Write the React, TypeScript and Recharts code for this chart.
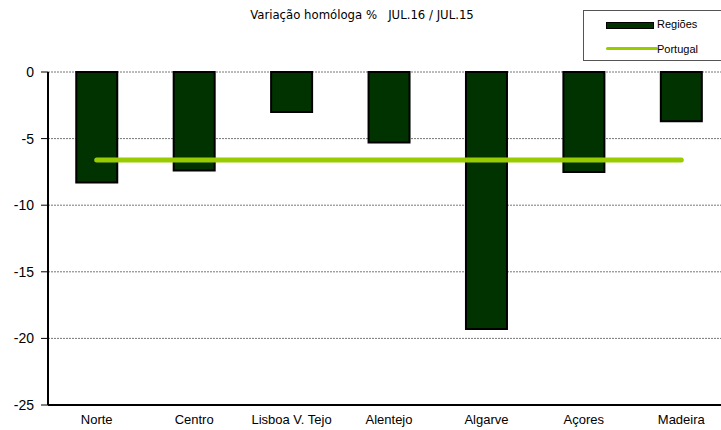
import React from "react";
import {
  ComposedChart,
  Bar,
  Line,
  XAxis,
  YAxis,
  CartesianGrid,
  ReferenceLine,
} from "recharts";

const categories = ["Norte", "Centro", "Lisboa V. Tejo", "Alentejo", "Algarve", "Açores", "Madeira"];
const regioes = [-8.3, -7.4, -3.0, -5.3, -19.3, -7.5, -3.7];
const portugal = [-6.6, -6.6, -6.6, -6.6, -6.6, -6.6, -6.6];
const yTicks = [0, -5, -10, -15, -20, -25];
const topTicks = [0, 1, 2, 3, 4, 5, 6, 7];

const title = "DESEMPREGO REGISTADO POR REGIÕES";
const subtitle = "Variação homóloga %   JUL.16 / JUL.15";

const data = categories.map((c, i) => ({ name: c, regioes: regioes[i], portugal: portugal[i] }));

export default function App() {
  return (
    <div style={{ position: "absolute", left: 0, top: 0, width: 721, height: 430, overflow: "hidden", background: "#fff" }}>
      <div
        style={{
          position: "absolute",
          left: 0,
          width: 721,
          top: -11,
          textAlign: "center",
          fontFamily: "Arial, 'Liberation Sans', sans-serif",
          fontWeight: "bold",
          fontSize: 12,
          lineHeight: "14px",
          paddingLeft: 0,
        }}
      >
        <span style={{ position: "relative", left: 0 }}>{title}</span>
      </div>
      <div
        style={{
          position: "absolute",
          left: 0,
          width: 724,
          top: 7,
          textAlign: "center",
          fontFamily: "'DejaVu Sans Condensed', 'DejaVu Sans', sans-serif",
          fontSize: 13,
          lineHeight: "16px",
          whiteSpace: "pre",
        }}
      >
        {subtitle}
      </div>
      <div
        style={{
          position: "absolute",
          left: 583,
          top: 10,
          width: 140,
          height: 51,
          border: "1px solid #555",
          boxSizing: "border-box",
          fontFamily: "Arial, 'Liberation Sans', sans-serif",
          fontSize: 11,
          zIndex: 2,
          background: "#fff",
        }}
      >
        <div style={{ position: "absolute", left: 22, top: 11, width: 46, height: 5, background: "#003300", border: "1px solid #000" }} />
        <div style={{ position: "absolute", left: 73, top: 6, lineHeight: "14px" }}>Regiões</div>
        <div style={{ position: "absolute", left: 22, top: 36, width: 52, height: 3, background: "#99CC00", borderRadius: 2 }} />
        <div style={{ position: "absolute", left: 73, top: 31, lineHeight: "14px" }}>Portugal</div>
      </div>
      <ComposedChart
        width={730}
        height={430}
        data={data}
        margin={{ top: 72, right: 0, bottom: 0, left: 0 }}
        barCategoryGap="29%"
        style={{ position: "absolute", left: 0, top: 0 }}
      >
        <CartesianGrid vertical={false} stroke="#777" strokeDasharray="2 1" />
        <XAxis
          dataKey="name"
          height={25}
          axisLine={{ stroke: "#000", strokeWidth: 2 }}
          tickLine={false}
          tickSize={0}
          tickMargin={10}
          interval={0}
          tick={{ fill: "#000", fontSize: 13, fontFamily: "Arial, 'Liberation Sans', sans-serif" }}
        />
        <XAxis
          xAxisId="top"
          type="number"
          orientation="top"
          domain={[0, 7]}
          ticks={topTicks}
          height={0}
          mirror
          tick={false}
          tickSize={4}
          tickLine={{ stroke: "#000", strokeWidth: 1 }}
          axisLine={{ stroke: "#000", strokeWidth: 2 }}
        />
        <YAxis
          domain={[-25, 0]}
          ticks={yTicks}
          width={48}
          interval={0}
          axisLine={{ stroke: "#000", strokeWidth: 2 }}
          tickLine={{ stroke: "#000", strokeWidth: 1 }}
          tickSize={7}
          tickMargin={7}
          tick={{ fill: "#000", fontSize: 14, fontFamily: "Arial, 'Liberation Sans', sans-serif" }}
        />
        <Bar dataKey="regioes" fill="#003300" stroke="#000" strokeWidth={2} isAnimationActive={false} />
        <Line
          dataKey="portugal"
          type="linear"
          stroke="#99CC00"
          strokeWidth={5}
          strokeLinecap="round"
          dot={false}
          activeDot={false}
          isAnimationActive={false}
        />
      </ComposedChart>
    </div>
  );
}
